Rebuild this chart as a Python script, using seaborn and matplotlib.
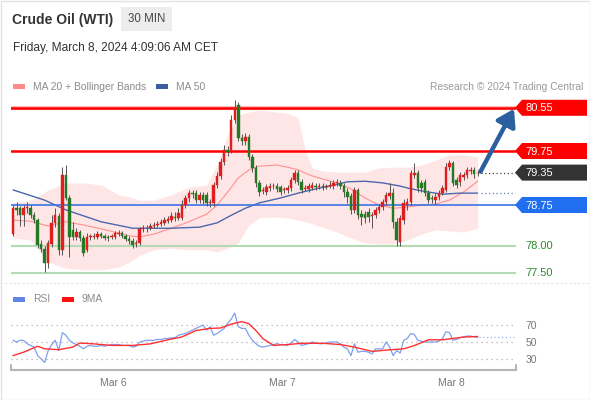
import numpy as np
import pandas as pd
import matplotlib
matplotlib.use("Agg")
import matplotlib.pyplot as plt
import matplotlib.dates as mdates
from matplotlib.patches import Polygon, Rectangle, FancyArrowPatch, ArrowStyle
from matplotlib.ticker import FuncFormatter
import seaborn as sns

sns.set_style("white")
plt.rcParams['font.family'] = ['Liberation Sans', 'DejaVu Sans']

# ---------------- data (30-min candles, Crude Oil WTI) ----------------
open_ = [78.21, 78.69, 78.69, 78.56, 78.69, 78.69, 78.56, 78.47, 78.03, 77.94,
         77.68, 78.03, 78.42, 78.55, 77.92, 79.31, 78.88, 78.29, 78.16, 78.25,
         78.14, 77.92, 78.16, 78.16, 78.16, 78.21, 78.18, 78.16, 78.16, 78.16,
         78.21, 78.23, 78.18, 78.12, 78.08, 78.03, 78.05, 78.31, 78.32, 78.32,
         78.36, 78.38, 78.40, 78.42, 78.45, 78.47, 78.53, 78.51, 78.51, 78.75,
         78.88, 78.97, 78.97, 78.84, 78.94, 78.94, 78.79, 78.79, 79.12, 79.29,
         79.55, 79.77, 79.77, 80.32, 80.60, 79.99, 79.94, 80.01, 79.64, 79.44,
         79.16, 79.01, 78.99, 79.06, 79.10, 79.10, 79.08, 79.03, 79.03, 79.06,
         79.21, 79.34, 79.18, 79.05, 79.05, 79.06, 79.10, 79.08, 79.10, 79.08,
         79.10, 79.10, 79.16, 79.16, 79.10, 78.99, 78.92, 78.66, 79.03, 78.58,
         78.58, 78.62, 78.55, 78.56, 78.66, 78.71, 78.81, 78.92, 78.97, 78.44,
         78.06, 78.47, 78.75, 78.81, 79.31, 79.34, 79.16, 79.18, 78.97, 78.88,
         78.84, 78.90, 78.97, 79.03, 79.45, 79.53, 79.21, 79.18, 79.27, 79.31,
         79.38, 79.40, 79.34]
high = [78.75, 78.81, 78.73, 78.75, 78.81, 78.75, 78.62, 78.51, 78.10, 77.99,
        78.10, 78.56, 78.69, 78.60, 79.45, 79.49, 78.94, 78.44, 78.32, 78.29,
        78.19, 78.23, 78.21, 78.23, 78.27, 78.25, 78.21, 78.19, 78.21, 78.27,
        78.29, 78.27, 78.21, 78.18, 78.14, 78.10, 78.34, 78.38, 78.38, 78.42,
        78.44, 78.45, 78.49, 78.53, 78.55, 78.62, 78.62, 78.69, 78.84, 78.94,
        79.03, 79.03, 79.03, 78.99, 78.99, 78.99, 78.86, 79.18, 79.36, 79.62,
        79.86, 79.84, 80.42, 80.69, 80.66, 80.06, 80.08, 80.06, 79.69, 79.49,
        79.21, 79.08, 79.14, 79.16, 79.16, 79.16, 79.12, 79.08, 79.12, 79.27,
        79.40, 79.40, 79.23, 79.12, 79.16, 79.18, 79.16, 79.16, 79.16, 79.14,
        79.19, 79.21, 79.23, 79.21, 79.16, 79.06, 78.97, 79.08, 79.06, 78.66,
        78.64, 78.69, 78.62, 78.71, 78.77, 78.86, 78.99, 79.16, 79.06, 78.51,
        78.56, 78.86, 78.88, 79.40, 79.53, 79.40, 79.21, 79.23, 79.03, 78.94,
        78.97, 79.03, 79.12, 79.53, 79.58, 79.56, 79.27, 79.36, 79.36, 79.45,
        79.45, 79.45, 79.40]
low = [78.18, 78.56, 78.36, 78.36, 78.60, 78.51, 78.42, 77.95, 77.88, 77.51,
       77.58, 77.97, 78.34, 77.82, 77.82, 78.84, 77.79, 78.10, 78.10, 78.08,
       77.81, 77.88, 78.10, 78.12, 78.12, 78.14, 78.10, 78.08, 78.12, 78.12,
       78.18, 78.14, 78.08, 78.03, 77.95, 77.97, 78.01, 78.25, 78.25, 78.29,
       78.32, 78.34, 78.36, 78.38, 78.42, 78.44, 78.45, 78.47, 78.47, 78.69,
       78.81, 78.88, 78.79, 78.79, 78.77, 78.73, 78.71, 78.73, 79.06, 79.23,
       79.49, 79.66, 79.71, 80.27, 79.94, 79.86, 79.86, 79.58, 79.36, 79.08,
       78.92, 78.95, 78.94, 79.01, 79.05, 78.99, 78.94, 78.97, 78.97, 79.01,
       79.16, 79.12, 78.97, 79.01, 78.99, 79.03, 79.03, 79.05, 79.03, 79.05,
       79.06, 79.05, 79.10, 79.05, 78.90, 78.79, 78.58, 78.60, 78.49, 78.38,
       78.42, 78.44, 78.32, 78.51, 78.60, 78.66, 78.75, 78.86, 78.32, 77.99,
       77.99, 78.40, 78.66, 78.75, 79.25, 78.99, 78.99, 78.92, 78.79, 78.79,
       78.77, 78.84, 78.94, 78.99, 79.40, 79.10, 79.06, 79.10, 79.21, 79.25,
       79.32, 79.25, 79.29]
close = [78.69, 78.66, 78.56, 78.69, 78.71, 78.56, 78.47, 78.01, 77.94, 77.68,
         78.05, 78.42, 78.56, 77.92, 79.31, 78.88, 78.16, 78.16, 78.25, 78.14,
         77.86, 78.16, 78.16, 78.18, 78.21, 78.18, 78.14, 78.14, 78.16, 78.23,
         78.23, 78.18, 78.12, 78.08, 78.01, 78.05, 78.31, 78.32, 78.31, 78.36,
         78.38, 78.40, 78.44, 78.47, 78.49, 78.55, 78.51, 78.60, 78.75, 78.88,
         78.97, 78.95, 78.84, 78.94, 78.84, 78.79, 78.79, 79.12, 79.29, 79.55,
         79.77, 79.73, 80.32, 80.55, 79.99, 79.94, 80.01, 79.64, 79.44, 79.16,
         78.99, 79.03, 79.08, 79.10, 79.10, 79.05, 78.99, 79.03, 79.06, 79.21,
         79.34, 79.18, 79.03, 79.06, 79.10, 79.12, 79.08, 79.10, 79.08, 79.10,
         79.12, 79.16, 79.18, 79.10, 78.99, 78.90, 78.66, 79.03, 78.56, 78.53,
         78.51, 78.53, 78.56, 78.66, 78.71, 78.81, 78.94, 78.97, 78.44, 78.10,
         78.51, 78.79, 78.81, 79.34, 79.34, 79.06, 79.06, 78.97, 78.84, 78.86,
         78.90, 78.97, 79.06, 79.45, 79.53, 79.16, 79.12, 79.31, 79.31, 79.40,
         79.40, 79.32, 79.35]

# indicator values read at selected bars
band_bars = [0, 5, 10, 15, 20, 25, 30, 33, 36, 40, 45, 50, 55, 58, 61, 64, 67, 70, 75, 78,
             81, 83, 85, 88, 92, 96, 100, 104, 108, 112, 116, 120, 124, 128, 132]
bb_upper = [78.79, 78.84, 79.03, 79.16, 79.16, 79.12, 78.94, 78.90, 78.84, 78.84,
            78.94, 79.08, 79.12, 79.49, 80.05, 80.42, 80.47, 80.51, 80.47, 80.45,
            80.36, 79.77, 79.44, 79.38, 79.36, 79.36, 79.36, 79.44, 79.45, 79.45,
            79.49, 79.58, 79.68, 79.68, 79.64]
bb_lower = [78.14, 78.10, 77.69, 77.58, 77.55, 77.55, 77.60, 77.69, 77.82, 77.92,
            77.95, 77.92, 77.92, 77.88, 77.95, 78.05, 78.38, 78.51, 78.53, 78.51,
            78.47, 78.44, 78.40, 78.34, 78.25, 78.14, 78.05, 78.03, 78.03, 78.10,
            78.21, 78.29, 78.27, 78.25, 78.32]
ma20 = [78.47, 78.45, 78.36, 78.44, 78.38, 78.31, 78.23, 78.18, 78.16, 78.21,
        78.32, 78.44, 78.58, 78.75, 78.99, 79.25, 79.40, 79.47, 79.49, 79.45,
        79.40, 79.34, 79.29, 79.23, 79.16, 79.05, 78.88, 78.75, 78.69, 78.71,
        78.75, 78.77, 78.84, 78.99, 79.19]
ma50_bars = [0, 9, 15, 25, 34, 45, 53, 58, 62, 66, 70, 76, 81, 86, 90, 95, 100, 105,
             110, 113, 118, 122, 127, 132]
ma50 = [79.03, 78.84, 78.66, 78.44, 78.32, 78.32, 78.34, 78.42, 78.56, 78.69, 78.79,
        78.88, 78.97, 79.05, 79.10, 79.18, 79.19, 79.16, 79.10, 79.05, 78.99, 78.95,
        78.97, 78.97]

rsi = [52, 50, 52, 52, 48, 46, 44, 34, 30, 26,
       40, 47, 52, 40, 61, 58, 52, 49, 47, 45,
       42, 45, 46, 45, 45, 46, 45, 46, 47, 47,
       47, 46, 46, 46, 44, 45, 50, 51, 52, 52,
       52, 53, 53, 54, 54, 55, 55, 58, 59, 60,
       62, 64, 66, 68, 70, 64, 68, 58, 60, 63,
       66, 72, 77, 84, 68, 66, 66, 58, 52, 48,
       45, 44, 45, 46, 47, 48, 47, 47, 46, 49,
       53, 50, 46, 47, 48, 50, 49, 48, 48, 49,
       50, 50, 50, 48, 44, 42, 34, 48, 38, 39,
       39, 38, 36, 42, 42, 42, 50, 44, 34, 40,
       37, 52, 54, 60, 59, 52, 51, 50, 50, 50,
       50, 51, 54, 62, 61, 52, 53, 55, 56, 57,
       57, 56, 55.5]
ma9_bars = [0, 3, 7, 9, 13, 17, 19, 23, 28, 34, 39, 44, 48, 52, 56, 59, 62, 65, 67, 69,
            71, 74, 78, 82, 88, 93, 97, 102, 107, 111, 114, 118, 122, 128, 132]
rsi_ma9 = [34, 38, 45, 42, 41, 44, 48.8, 47.8, 46, 46, 47.8, 52.6, 56, 63.5, 66, 66.5,
           71, 74, 71.5, 63.5, 54, 46, 47, 48.5, 48.5, 47, 44, 39, 40.8, 42, 45.8,
           52.6, 52.6, 55.8, 56.5]

resistances = [80.55, 79.75]
last_price = 79.35
pivot = 78.75
supports = [78.00, 77.50]
day_labels = ["Mar 6", "Mar 7", "Mar 8"]

times = pd.date_range("2024-03-05 09:45", periods=len(close), freq="30min")

# ---------------- figure ----------------
W, H = 590, 400
fig = plt.figure(figsize=(W / 100, H / 100), dpi=100)
fig.patch.set_facecolor("white")

ax = fig.add_axes([11 / W, 1 - 283 / H, 505 / W, 188 / H])
rax = fig.add_axes([11 / W, 1 - 370 / H, 505 / W, 65 / H])
ov = fig.add_axes([0, 0, 1, 1], zorder=10)
ov.set_xlim(0, W)
ov.set_ylim(H, 0)
ov.axis("off")
ov.patch.set_alpha(0)

bar = 1 / 48.0
t0 = mdates.date2num(times[0])
xlim = (t0 - 0.57 * bar, t0 + 142.9 * bar)

for a in (ax, rax):
    a.patch.set_alpha(0)
    for s in a.spines.values():
        s.set_visible(False)

# Bollinger band + MAs
bt = times[band_bars]
ax.fill_between(bt, bb_lower, bb_upper, color="#ffe6e6", lw=0, zorder=1)
sns.lineplot(x=bt, y=ma20, ax=ax, color="#ff9090", linewidth=0.8, zorder=2)
sns.lineplot(x=times[ma50_bars], y=ma50, ax=ax, color="#4a68ad", linewidth=1.0, zorder=2)

# level lines
ax.axhline(resistances[0], color="#ffbcbc", lw=3.0, zorder=3)
for r in resistances:
    ax.axhline(r, color="#ff0000", lw=1.8, zorder=3)
ax.axhline(pivot, color="#3b73e6", lw=1.2, zorder=3)
for s in supports:
    ax.axhline(s, color="#b3dab3", lw=1.5, zorder=3)

# candles
o = np.array(open_); c = np.array(close)
up = c >= o
ax.vlines(times, low, high, color="#555555", lw=0.7, zorder=4)
cols = np.where(up, "#e01e1e", "#237a23")
body = np.where(np.abs(c - o) < 0.01, 0.01, c - o)
ax.bar(times, body, bottom=o, width=0.7 * bar, color=cols, edgecolor=cols,
       linewidth=0.3, zorder=5)

ax.set_xlim(*xlim)
ax.set_ylim(77.306, 80.787)
ax.set_xticks([]); ax.set_yticks([])
ax.set_xlabel(""); ax.set_ylabel("")

# RSI panel
for lvl in (70, 50, 30):
    rax.axhline(lvl, color="#b0b0b0", lw=0.9, ls=(0, (1, 3)), zorder=1)
sns.lineplot(x=times, y=rsi, ax=rax, color="#7f9ff0", linewidth=0.9, zorder=3)
sns.lineplot(x=times[ma9_bars], y=rsi_ma9, ax=rax, color="#ff3030", linewidth=1.0, zorder=4)
rax.set_xlim(*xlim)
rax.set_ylim(17.1, 93.5)
rax.spines["bottom"].set_visible(True)
rax.spines["bottom"].set_color("#b5b5b5")
rax.spines["bottom"].set_linewidth(1.5)
rax.yaxis.tick_right()
rax.set_yticks([30, 50, 70])
rax.tick_params(axis="y", length=0, pad=7, labelsize=7.5, labelcolor="#777777")
rax.xaxis.set_major_locator(mdates.DayLocator())
day0 = mdates.date2num(pd.Timestamp("2024-03-06"))
rax.xaxis.set_major_formatter(FuncFormatter(
    lambda v, p: day_labels[int(round(v - day0))] if 0 <= round(v - day0) < 3 else ""))
rax.tick_params(axis="x", length=0, pad=6, labelsize=7.5, labelcolor="#777777")
rax.set_xlabel(""); rax.set_ylabel("")

# ---------------- overlay: header, legends, tags ----------------
def ypix(axis, val):
    d = axis.transData.transform((xlim[0], val))
    return ov.transData.inverted().transform(d)[1]

ov.add_patch(Rectangle((0.5, 0.5), W - 1, H - 1, fill=False, ec="#e3e3e3", lw=1))
ov.text(12, 20, "Crude Oil (WTI)", fontsize=10, fontweight="bold", color="#333333",
        va="center", ha="left")
ov.add_patch(Rectangle((121, 7), 51, 24, fc="#ededed", ec="none"))
ov.text(146.5, 19.5, "30 MIN", fontsize=8.3, color="#444444", va="center", ha="center")
ov.text(13, 48, "Friday, March 8, 2024 4:09:06 AM CET", fontsize=8.6, color="#333333",
        va="center", ha="left")

ov.add_patch(Rectangle((13, 84), 12, 4.5, fc="#ff8a8a", ec="none"))
ov.text(33, 86.5, "MA 20 + Bollinger Bands", fontsize=7.4, color="#8c8c8c", va="center")
ov.add_patch(Rectangle((156, 84), 12, 4.5, fc="#3c5fa3", ec="none"))
ov.text(176, 86.5, "MA 50", fontsize=7.4, color="#8c8c8c", va="center")
ov.text(583, 86.5, "Research \u00a9 2024 Trading Central", fontsize=7.4, color="#9a9a9a",
        va="center", ha="right")

ov.plot([0, W], [283, 283], color="#e4e4e4", lw=0.8, ls=(0, (2, 2)))

ov.add_patch(Rectangle((13, 297), 12, 4.5, fc="#5f86e8", ec="none"))
ov.text(33, 299.5, "RSI", fontsize=7.4, color="#8c8c8c", va="center")
ov.add_patch(Rectangle((62, 297), 12, 4.5, fc="#ff1010", ec="none"))
ov.text(82, 299.5, "9MA", fontsize=7.4, color="#8c8c8c", va="center")

# axis end brackets
ov.plot([11, 11], [365, 370], color="#b5b5b5", lw=1.5)
ov.plot([516, 516], [365, 370], color="#b5b5b5", lw=1.5)

# dotted extensions
last_x = 478.5
ov.plot([last_x + 2, 515], [ypix(ax, last_price)] * 2, color="#444444", lw=0.9, ls=(0, (1, 2)))
ov.plot([last_x + 2, 515], [ypix(ax, ma50[-1])] * 2, color="#6a7fae", lw=0.9, ls=(0, (1, 2)))
ov.plot([last_x, 515], [ypix(rax, rsi[-1])] * 2, color="#9ab2f2", lw=0.9, ls=(0, (1, 2)))

def tag(val, color):
    y = ypix(ax, val)
    ov.add_patch(Polygon([(515, y), (522, y - 8), (587, y - 8), (587, y + 8), (522, y + 8)],
                         closed=True, fc=color, ec="none"))
    ov.text(525, y + 0.5, f"{val:.2f}", fontsize=8, color="white", va="center", ha="left")

tag(resistances[0], "#ff0000")
tag(resistances[1], "#ff0000")
tag(last_price, "#333333")
tag(pivot, "#1f6ff0")
for s in supports:
    ov.text(525, ypix(ax, s) + 0.5, f"{s:.2f}", fontsize=8, color="#2e8b2e",
            va="center", ha="left")

arr = FancyArrowPatch((last_x + 2, ypix(ax, last_price) - 1), (514, ypix(ax, resistances[0]) + 1),
                      arrowstyle=ArrowStyle("-|>", head_length=0.55, head_width=0.35),
                      mutation_scale=18, lw=3.2, color="#2c5fa0", shrinkA=0, shrinkB=0)
ov.add_patch(arr)

fig.savefig("out.png", dpi=100)
